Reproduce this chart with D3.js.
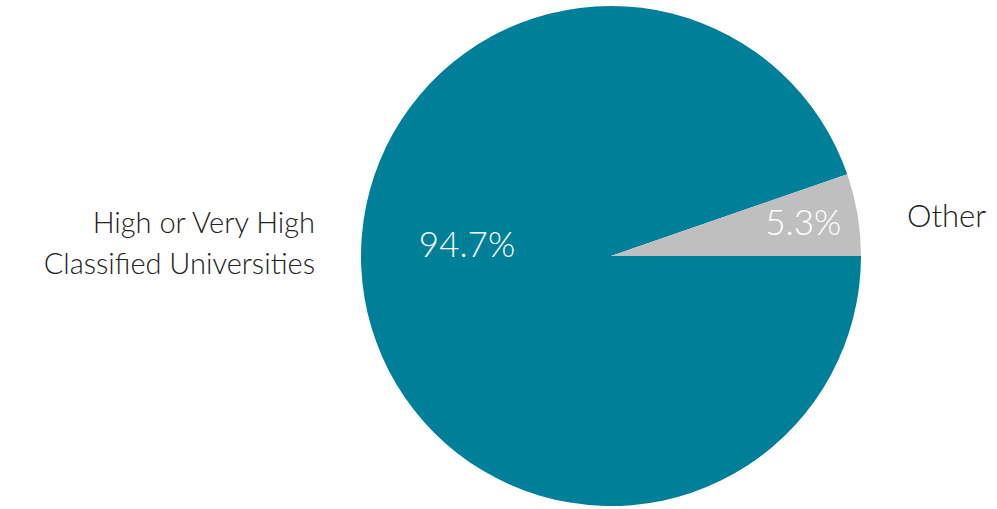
<!DOCTYPE html>
<html>
<head>
<meta charset="utf-8">
<script src="https://cdn.jsdelivr.net/npm/d3@7"></script>
<style>
  body { margin: 0; background: #fff; }
  text { font-family: Lato, "Open Sans", sans-serif; font-weight: 300; }
</style>
</head>
<body>
<div id="chart"></div>
<script>
// Data
const categories = ["High or Very High\nClassified Universities", "Other"];
const values = [94.7, 5.3];
const pctLabels = ["94.7%", "5.3%"];
const colors = ["#007f99", "#bfbfbf"];

const width = 997, height = 509;
const cx = 611, cy = 256, radius = 250;

const svg = d3.select("#chart").append("svg")
    .attr("width", width)
    .attr("height", height);

const g = svg.append("g").attr("transform", `translate(${cx},${cy})`);

// Pie starts at 3 o'clock going clockwise
const pie = d3.pie()
    .sort(null)
    .startAngle(Math.PI / 2)
    .endAngle(Math.PI / 2 + 2 * Math.PI);

const arcs = pie(values);
const arc = d3.arc().innerRadius(0).outerRadius(radius);
const labelArc = d3.arc().innerRadius(radius * 0.78).outerRadius(radius * 0.78);

g.selectAll("path.slice")
    .data(arcs)
    .enter().append("path")
    .attr("class", "slice")
    .attr("d", arc)
    .attr("fill", (d, i) => colors[i]);

// Percentage labels inside the slices
g.selectAll("text.pct")
    .data(arcs)
    .enter().append("text")
    .attr("class", "pct")
    .attr("text-anchor", "middle")
    .attr("fill", "#fff")
    .style("font-size", "35px")
    .attr("x", (d, i) => i === 0 ? -144 : labelArc.centroid(d)[0])
    .attr("y", (d, i) => i === 0 ? 1 : labelArc.centroid(d)[1] + 11)
    .text((d, i) => pctLabels[i]);

// Category labels outside
const catGap = 46;
const left = g.append("text")
    .attr("text-anchor", "end")
    .attr("fill", "#222")
    .style("font-size", "29px");
categories[0].split("\n").forEach((line, k) => {
    left.append("tspan")
        .attr("x", -radius - catGap)
        .attr("y", -23 + k * 41)
        .text(line);
});

g.append("text")
    .attr("text-anchor", "start")
    .attr("fill", "#222")
    .style("font-size", "31px")
    .attr("x", radius + catGap)
    .attr("y", -29)
    .text(categories[1]);
</script>
</body>
</html>
